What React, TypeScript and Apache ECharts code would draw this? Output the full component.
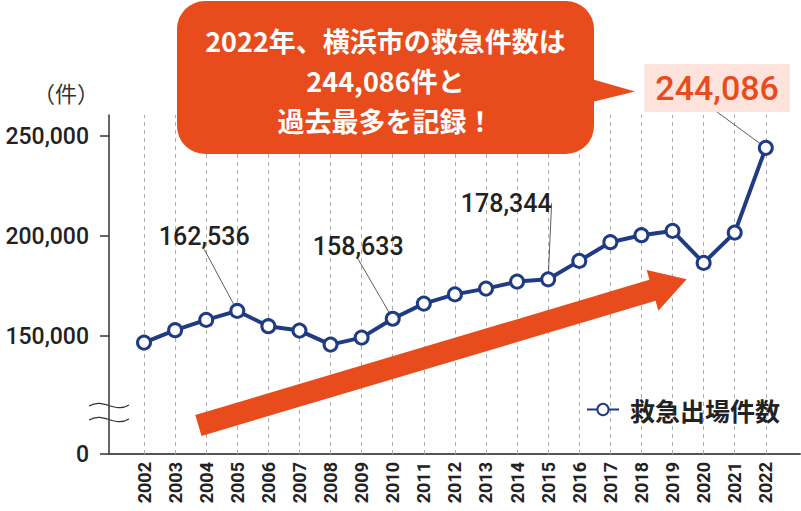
import React, { useEffect, useRef } from "react";
import * as echarts from "echarts";

// ---- data ----
const years = [
  2002, 2003, 2004, 2005, 2006, 2007, 2008, 2009, 2010, 2011, 2012,
  2013, 2014, 2015, 2016, 2017, 2018, 2019, 2020, 2021, 2022,
];
const values = [
  146700, 152900, 158050, 162536, 154900, 152700, 145700, 149200, 158633,
  166200, 170800, 173700, 177200, 178344, 187550, 196900, 200400, 202550,
  186550, 201700, 244086,
];
const labeledYears = [2005, 2010, 2015, 2022];
const highlightYear = 2022;
const yTickValues = [150000, 200000, 250000];
const yAxisMin = 91000;
const yAxisMax = 260500;
const baseTickLabel = "0";
const seriesName = "救急出場件数";
const unitLabel = "（件）";
const calloutLines = ["2022年、横浜市の救急件数は", "244,086件と", "過去最多を記録！"];

// ---- layout / style (not data) ----
const ORANGE = "#e84c1c";
const NAVY = "#1f3b84";
const PINK = "#fde3dc";
const NUM_FONT = "Roboto";
const JP_FONT = "'Noto Sans CJK JP'";
const labelOffsets: Record<number, [number, number]> = {
  2005: [-33, -74],
  2010: [-34.5, -72],
  2015: [-42, -76],
  2022: [-48.7, -59.8],
};

const fmt = (v: number) => Math.round(v).toLocaleString("en-US");

export default function App() {
  const ref = useRef<HTMLDivElement>(null);
  useEffect(() => {
    if (!ref.current) return;
    const chart = echarts.init(ref.current, undefined, { renderer: "svg" });

    const seriesData = years.map((y, i) => {
      const item: any = { value: [y, values[i]] };
      if (labeledYears.includes(y)) {
        const hl = y === highlightYear;
        item.label = {
          show: true,
          formatter: (p: any) => fmt(p.value[1]),
          fontFamily: NUM_FONT,
          fontWeight: 500,
          fontSize: hl ? 34 : 25,
          color: hl ? ORANGE : "#222",
          backgroundColor: hl ? PINK : "transparent",
          padding: hl ? [8, 11, 6, 11] : 0,
        };
        item.labelLine = { show: true, lineStyle: { color: "#333", width: 0.8 } };
      }
      return item;
    });

    const option: any = {
      animation: false,
      textStyle: { fontFamily: NUM_FONT },
      grid: { left: 109, right: 1, top: 115, bottom: 57, containLabel: false },
      legend: {
        data: [seriesName],
        left: 581,
        top: 392,
        itemWidth: 32,
        itemHeight: 14,
        textStyle: {
          fontSize: 25,
          fontWeight: "bold",
          color: "#222",
          fontFamily: JP_FONT,
          padding: [0, 0, 0, 6],
        },
      },
      xAxis: {
        type: "value",
        min: 2000.874,
        max: 2023.1,
        axisLine: { show: true, onZero: false, lineStyle: { color: "#555", width: 2 } },
        axisTick: { show: false },
        splitLine: { show: false },
        axisLabel: {
          customValues: years,
          rotate: 90,
          margin: 8,
          fontSize: 18,
          fontWeight: "bold",
          color: "#222",
          fontFamily: NUM_FONT,
          formatter: (v: number) => String(Math.round(v)),
        },
      },
      yAxis: {
        type: "value",
        min: yAxisMin,
        max: yAxisMax,
        name: unitLabel,
        nameLocation: "end",
        nameGap: 12,
        nameTextStyle: {
          fontSize: 22,
          color: "#333",
          fontFamily: JP_FONT,
          align: "right",
          verticalAlign: "bottom",
          padding: [0, 10, 0, 0],
        },
        axisLine: { show: true, lineStyle: { color: "#333", width: 1.5 } },
        axisTick: {
          show: true,
          length: 9,
          customValues: [yAxisMin, ...yTickValues],
          lineStyle: { color: "#333", width: 1.5 },
        },
        splitLine: { show: false },
        axisLabel: {
          customValues: [yAxisMin, ...yTickValues],
          margin: 20,
          fontSize: 23,
          fontWeight: 500,
          color: "#222",
          fontFamily: NUM_FONT,
          formatter: (v: number) => (v === yAxisMin ? baseTickLabel : fmt(v)),
        },
      },
      series: [
        {
          type: "line",
          name: "grid",
          data: [],
          silent: true,
          z: 1,
          markLine: {
            silent: true,
            z: 1,
            symbol: ["none", "none"],
            label: { show: false },
            emphasis: { disabled: true },
            lineStyle: { type: [4, 4], color: "#aaa", width: 1 },
            data: years.map((y) => ({ xAxis: y })),
          },
        },
        {
          type: "line",
          name: seriesName,
          z: 3,
          data: seriesData,
          symbol: "circle",
          symbolSize: 13,
          lineStyle: { color: NAVY, width: 4 },
          itemStyle: { color: "#fff", borderColor: NAVY, borderWidth: 3 },
          label: { show: false },
          labelLayout: (params: any) => {
            const y = years[params.dataIndex];
            const off = labelOffsets[y];
            if (!off) return {};
            const r = params.rect;
            return {
              x: r.x + r.width / 2 + off[0],
              y: r.y + r.height / 2 + off[1],
              align: "center",
              verticalAlign: "middle",
            };
          },
        },
      ],
      graphic: [
        {
          type: "polygon",
          z: 2,
          silent: true,
          shape: {
            points: [
              [195.3, 415],
              [649.4, 279.8],
              [646.7, 270],
              [686.7, 279.3],
              [658.3, 310.7],
              [655.6, 300.8],
              [201.5, 436],
            ],
          },
          style: { fill: ORANGE },
        },
        {
          type: "rect",
          z: 10,
          silent: true,
          shape: { x: 177, y: 1, width: 417, height: 153, r: 28 },
          style: { fill: ORANGE },
        },
        {
          type: "polygon",
          z: 10,
          silent: true,
          shape: { points: [[588, 78], [635, 91.5], [588, 103]] },
          style: { fill: ORANGE },
        },
        {
          type: "text",
          z: 11,
          silent: true,
          x: 385.5,
          y: 80.5,
          style: {
            text: calloutLines.join("\n"),
            fill: "#fff",
            fontSize: 27,
            fontWeight: "bold",
            fontFamily: JP_FONT,
            align: "center",
            verticalAlign: "middle",
            lineHeight: 40,
          },
        },
        {
          type: "bezierCurve",
          z: 12,
          silent: true,
          shape: { x1: 89, y1: 406, x2: 129, y2: 405, cpx1: 104, cpy1: 397, cpx2: 114, cpy2: 414 },
          style: { stroke: "#333", lineWidth: 1.3, fill: "none" },
        },
        {
          type: "bezierCurve",
          z: 12,
          silent: true,
          shape: { x1: 89, y1: 420, x2: 129, y2: 419, cpx1: 104, cpy1: 411, cpx2: 114, cpy2: 428 },
          style: { stroke: "#333", lineWidth: 1.3, fill: "none" },
        },
      ],
    };
    chart.setOption(option);
    return () => chart.dispose();
  }, []);
  return <div ref={ref} style={{ width: 801, height: 511, position: "absolute", left: 0, top: 0 }} />;
}
